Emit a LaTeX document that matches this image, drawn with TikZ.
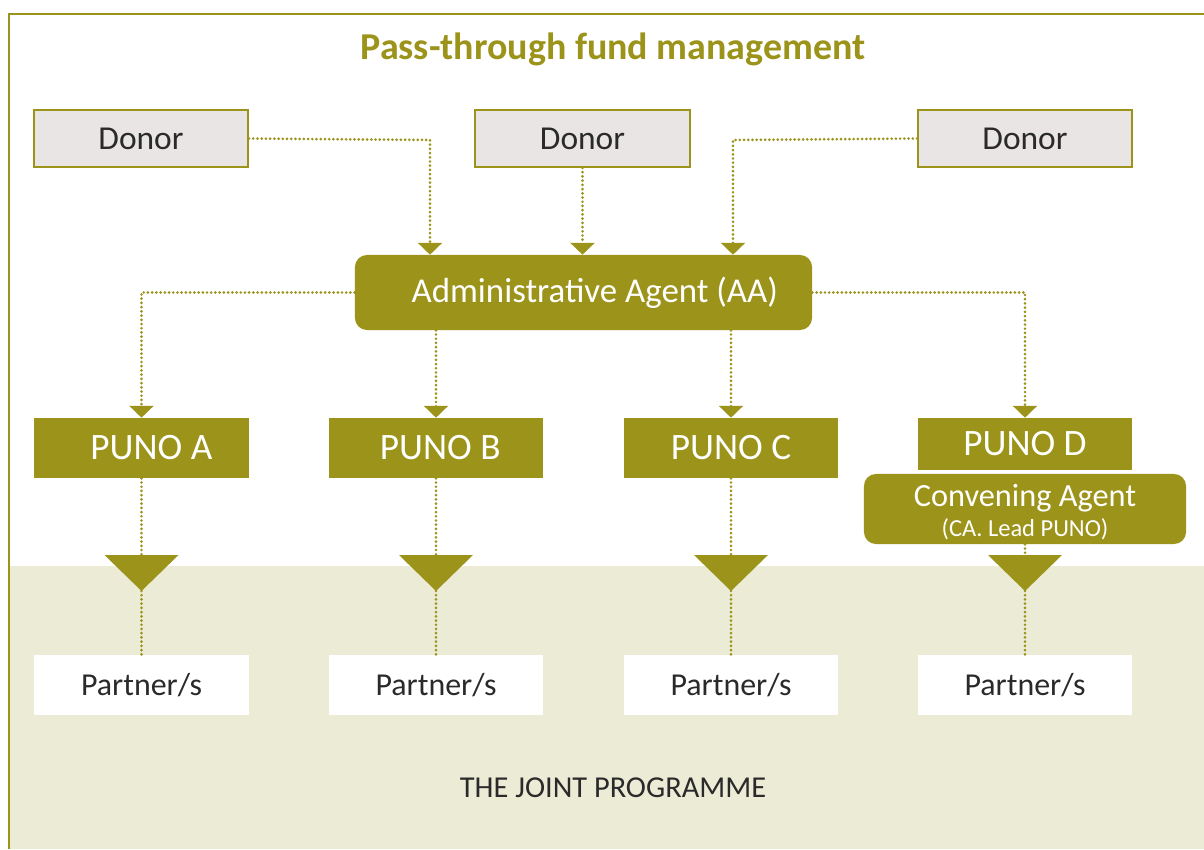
\documentclass[tikz,border=0pt]{standalone}
\usepackage{fontspec}
\setmainfont{Carlito}
\usetikzlibrary{arrows.meta}
\definecolor{fundolive}{HTML}{9C931A}
\definecolor{donorgrey}{HTML}{E8E5E4}
\definecolor{bandbeige}{HTML}{ECEBD6}
\definecolor{textdark}{HTML}{2A2A2A}

\begin{document}
\begin{tikzpicture}[x=0.025cm,y=-0.025cm,
  donor/.style={draw=fundolive, line width=1.4pt, fill=donorgrey, text=textdark,
    minimum width=5.35cm, minimum height=1.425cm, inner sep=0pt, font=\fontsize{23.8}{25}\selectfont},
  puno/.style={fill=fundolive, text=white, minimum width=5.35cm, minimum height=1.5cm,
    inner sep=0pt, font=\fontsize{26.5}{28}\selectfont},
  agent/.style={fill=fundolive, text=white, rounded corners=0.3cm, inner sep=0pt,
    font=\fontsize{24.8}{26}\selectfont},
  partner/.style={fill=white, text=textdark, minimum width=5.35cm, minimum height=1.5cm,
    inner sep=0pt, font=\fontsize{22.7}{24}\selectfont},
  link/.style={fundolive, line width=2.1pt, line cap=round, dash pattern=on 0pt off 3pt},
  flow/.style={link, -{Triangle[width=17pt,length=8.5pt]}}]
\useasboundingbox (0,0) rectangle (1204,849);
\fill[bandbeige] (10,566) rectangle (1204,849);
\draw[fundolive, line width=1.4pt] (9,849) -- (9,14) -- (1204,14);

\node[text=fundolive, font=\fontsize{27}{29}\selectfont\bfseries] (title) at (613,49) {Pass-through fund management};

\node[donor] (d1) at (141,138.5) {Donor};
\node[donor] (d2) at (582.5,138.5) {Donor};
\node[donor] (d3) at (1025,138.5) {Donor};

\node[agent, minimum width=11.425cm, minimum height=1.875cm] (aa) at (583.5,292.5) {\hspace{16pt}Administrative Agent (AA)};

\node[puno] (pA) at (141.5,448) {\hspace{14pt}PUNO A};
\node[puno] (pB) at (436,448) {\hspace{6pt}PUNO B};
\node[puno] (pC) at (731,448) {PUNO C};
\node[puno, minimum height=1.3cm] (pD) at (1025,444) {PUNO D};
\node[agent, minimum width=8.05cm, minimum height=1.75cm, align=center, font=\fontsize{23}{24}\selectfont] (ca) at (1025,509)
  {\rule{0pt}{20pt}Convening Agent\\[-3pt]{\fontsize{17.4}{18}\selectfont (CA. Lead PUNO)}};

\foreach \p/\x in {A/141.5,B/436,C/731,D/1025}{
  \fill[fundolive] (\x-37,555) -- (\x+37,555) -- (\x,591) -- cycle;
  \coordinate (top\p) at (\x,555);
  \coordinate (tip\p) at (\x,591);
}

\node[partner] (rA) at (141.5,685) {Partner/s};
\node[partner] (rB) at (436,685) {Partner/s};
\node[partner] (rC) at (731,685) {Partner/s};
\node[partner] (rD) at (1025,685) {Partner/s};

\node[text=textdark, font=\fontsize{21.6}{23}\selectfont] (jp) at (613,788) {THE JOINT PROGRAMME};

\coordinate (j1) at (430,140);
\coordinate (j3) at (733,140);
\draw[flow] (d1.east) -- (j1) -- (j1 |- aa.north);
\draw[flow] (d2.south) -- (aa.north -| d2.south);
\draw[flow] (d3.west) -- (j3) -- (j3 |- aa.north);

\draw[flow] (aa.west) -| (pA.north);
\draw[flow] (aa.south -| pB.north) -- (pB.north);
\draw[flow] (aa.south -| pC.north) -- (pC.north);
\draw[flow] (aa.east) -| (pD.north);

\draw[link] (pA.south) -- (topA);
\draw[link] (pB.south) -- (topB);
\draw[link] (pC.south) -- (topC);
\draw[link] (ca.south) -- (topD);
\foreach \p in {A,B,C,D}
  \draw[link] (tip\p) -- (r\p.north);
\end{tikzpicture}
\end{document}
